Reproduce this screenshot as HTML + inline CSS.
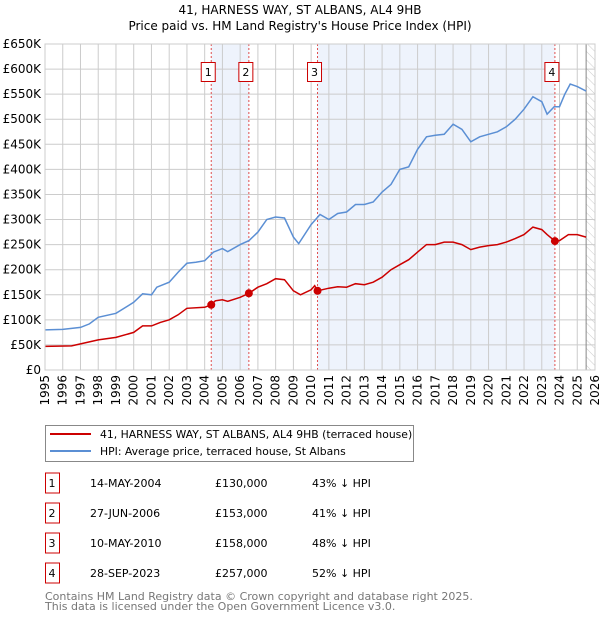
<!DOCTYPE html>
<html><head><meta charset="utf-8"><style>
body{margin:0;background:#fff;font-family:"DejaVu Sans","Liberation Sans",sans-serif;}
svg text{font-family:"DejaVu Sans","Liberation Sans",sans-serif;}
</style></head><body>
<svg id="c" width="600" height="620" xmlns="http://www.w3.org/2000/svg">
<defs><pattern id="hatch" width="6" height="6" patternUnits="userSpaceOnUse" patternTransform="rotate(-45)"><line x1="0" y1="0" x2="0" y2="6" stroke="#ccc" stroke-width="1"/></pattern></defs>
<text x="300" y="14" text-anchor="middle" font-size="12">41, HARNESS WAY, ST ALBANS, AL4 9HB</text>
<text x="300" y="30" text-anchor="middle" font-size="12">Price paid vs. HM Land Registry's House Price Index (HPI)</text>
<g id="plot"></g>
<g>
<rect x="45.5" y="425.5" width="368" height="36" fill="#fff" stroke="#888"/>
<line x1="50" y1="434" x2="91" y2="434" stroke="#cc0000" stroke-width="2"/>
<text x="100" y="438" font-size="10.8">41, HARNESS WAY, ST ALBANS, AL4 9HB (terraced house)</text>
<line x1="50" y1="451" x2="91" y2="451" stroke="#5b8fd4" stroke-width="2"/>
<text x="100" y="455" font-size="10.8">HPI: Average price, terraced house, St Albans</text>
</g>
<g id="table"></g>
<text x="45" y="600" font-size="11" fill="#777">Contains HM Land Registry data © Crown copyright and database right 2025.</text>
<text x="45" y="610" font-size="11" fill="#777">This data is licensed under the Open Government Licence v3.0.</text>
</svg>
<script>
const hpiYears=[1995,1996,1997,1997.5,1998,1999,2000,2000.5,2001,2001.3,2002,2002.5,2003,2003.5,2004,2004.5,2005,2005.3,2006,2006.5,2007,2007.5,2008,2008.5,2009,2009.3,2010,2010.5,2011,2011.5,2012,2012.5,2013,2013.5,2014,2014.5,2015,2015.5,2016,2016.5,2017,2017.5,2018,2018.5,2019,2019.5,2020,2020.5,2021,2021.5,2022,2022.5,2023,2023.3,2023.7,2024,2024.3,2024.6,2025,2025.5];
const hpiValues=[80,81,85,92,105,113,135,152,150,165,175,195,213,215,218,235,242,236,250,258,275,300,305,303,265,252,290,310,300,312,315,330,330,335,355,370,400,405,440,465,468,470,490,480,455,465,470,475,485,500,520,545,535,510,525,525,550,570,565,556];
const ppYears=[1995,1996.5,1997,1998,1999,2000,2000.5,2001,2001.5,2002,2002.5,2003,2004,2004.37,2004.6,2005,2005.3,2006,2006.49,2007,2007.5,2008,2008.5,2009,2009.4,2010,2010.2,2010.36,2011,2011.5,2012,2012.5,2013,2013.5,2014,2014.5,2015,2015.5,2016,2016.5,2017,2017.5,2018,2018.5,2019,2019.5,2020,2020.5,2021,2021.5,2022,2022.5,2023,2023.3,2023.74,2024,2024.5,2025,2025.5];
const ppValues=[47,48,52,60,65,75,88,88,95,100,110,123,125,130,138,140,137,145,153,165,172,182,180,158,150,160,168,158,163,166,165,172,170,175,185,200,210,220,235,250,250,255,255,250,240,245,248,250,255,262,270,285,280,270,257,258,270,270,265];
const saleYears=[2004.37,2006.49,2010.36,2023.74];
const saleValues=[130,153,158,257];
const saleLabels=["1","2","3","4"];
const saleDates=["14-MAY-2004","27-JUN-2006","10-MAY-2010","28-SEP-2023"];
const salePrices=["£130,000","£153,000","£158,000","£257,000"];
const salePct=["43% ↓ HPI","41% ↓ HPI","48% ↓ HPI","52% ↓ HPI"];
const yTicks=[0,50,100,150,200,250,300,350,400,450,500,550,600,650];
const yTickLabels=["£0","£50K","£100K","£150K","£200K","£250K","£300K","£350K","£400K","£450K","£500K","£550K","£600K","£650K"];
const xTicks=[1995,1996,1997,1998,1999,2000,2001,2002,2003,2004,2005,2006,2007,2008,2009,2010,2011,2012,2013,2014,2015,2016,2017,2018,2019,2020,2021,2022,2023,2024,2025,2026];
const dataEnd=2025.5;

const L=45,R=595,T=44,B=370;
const x=v=>L+(v-1995)/(2026-1995)*(R-L);
const y=v=>B-v/650*(B-T);
const NS="http://www.w3.org/2000/svg";
const plot=document.getElementById('plot');
function mk(tag,attrs,parent){const e=document.createElementNS(NS,tag);for(const k in attrs)e.setAttribute(k,attrs[k]);(parent||plot).appendChild(e);return e;}

let bg=mk('rect',{x:L,y:T,width:R-L,height:B-T,fill:'#fff'});


[[0,1],[2,3]].forEach((p,i)=>{
  const r=mk('rect',{x:x(saleYears[p[0]]),y:T,width:x(saleYears[p[1]])-x(saleYears[p[0]]),height:B-T,fill:'#eef3fc'});
  
  
});
let h=mk('rect',{x:x(dataEnd),y:T,width:R-x(dataEnd),height:B-T,fill:'url(#hatch)'});


yTicks.forEach((t,i)=>{
  const g=mk('line',{x1:L,x2:R,y1:y(t),y2:y(t),stroke:'#ccc','stroke-width':1});
  
  
  const tx=mk('text',{x:L-4,y:y(t)+4,'text-anchor':'end','font-size':12});
  tx.textContent=yTickLabels[i];
  
  
});
xTicks.forEach(t=>{
  const g=mk('line',{x1:x(t),x2:x(t),y1:T,y2:B,stroke:'#ccc','stroke-width':1});
  
  
  const tx=mk('text',{x:0,y:0,'font-size':12,'text-anchor':'end',transform:`translate(${x(t)+4},${B+5}) rotate(-90)`});
  tx.textContent=t;
  
  
});
let el=mk('line',{x1:x(dataEnd),x2:x(dataEnd),y1:T,y2:B,stroke:'#888','stroke-width':1});


saleYears.forEach((s,i)=>{
  const v=mk('line',{x1:x(s),x2:x(s),y1:T,y2:B,stroke:'#e05050','stroke-width':1,'stroke-dasharray':'2,2'});
  
  
  const bx=mk('rect',{x:x(s)-10,y:62.5,width:14,height:19,fill:'#fff',stroke:'#cc0000'});
  
  
  const tx=mk('text',{x:x(s)-3,y:76,'text-anchor':'middle','font-size':11});
  tx.textContent=saleLabels[i];
  
  
});
const path=(xs,vs)=>xs.map((v,i)=>(i?'L':'M')+x(v).toFixed(1)+','+y(vs[i]).toFixed(1)).join('');
let hp=mk('path',{d:path(hpiYears,hpiValues),fill:'none',stroke:'#5b8fd4','stroke-width':1.5});


let pp=mk('path',{d:path(ppYears,ppValues),fill:'none',stroke:'#cc0000','stroke-width':1.5});


saleYears.forEach((s,i)=>{
  const c=mk('circle',{cx:x(s),cy:y(saleValues[i]),r:4,fill:'#cc0000'});
  
  
});
let ax=mk('rect',{x:L,y:T,width:R-L,height:B-T,fill:'none',stroke:'#ccc'});


const tb=document.getElementById('table');
saleLabels.forEach((lab,i)=>{
  const cy=483+i*30;
  const r=mk('rect',{x:45.5,y:cy-10,width:14,height:20,fill:'#fff',stroke:'#cc0000'},tb);
  
  
  [[52,lab,'middle'],[90,saleDates[i],'start'],[215,salePrices[i],'start'],[312,salePct[i],'start']].forEach(([tx,s,a],j)=>{
    const t=mk('text',{x:tx,y:cy+4,'font-size':11,'text-anchor':a},tb);
    t.textContent=s;
    
    
  });
});
</script>
</body></html>
